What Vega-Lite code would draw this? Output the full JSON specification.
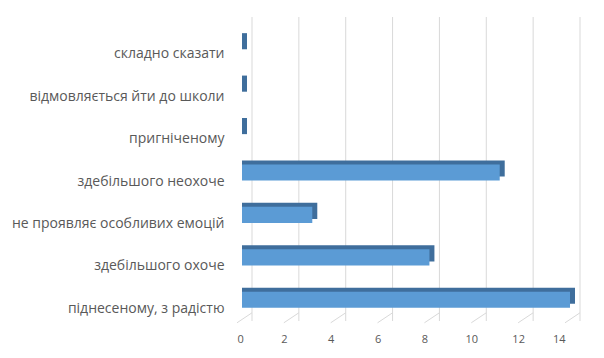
{
  "$schema": "https://vega.github.io/schema/vega-lite/v6.json",
  "autosize": {"type": "none"},
  "width": 328,
  "height": 297,
  "padding": {"left": 242, "top": 24, "right": 34, "bottom": 37},
  "background": "white",
  "config": {
    "view": {"stroke": null},
    "font": "Open Sans",
    "axisX": {"title": null, "domain": false, "ticks": false, "grid": false, "values": [0, 2, 4, 6, 8, 10, 12, 14], "labelPadding": 12, "labelOffset": -5, "labelFontSize": 11, "labelColor": "#595959"},
    "axisY": {"title": null, "domain": false, "ticks": false, "labelPadding": 18, "labelOffset": 9, "labelFontSize": 14, "labelColor": "#595959", "labelLimit": 300}
  },
  "datasets": {
    "bars": [
      {"category": "складно сказати", "value": 0},
      {"category": "відмовляється йти до школи", "value": 0},
      {"category": "пригніченому", "value": 0},
      {"category": "здебільшого неохоче", "value": 11},
      {"category": "не проявляє особливих емоцій", "value": 3},
      {"category": "здебільшого охоче", "value": 8},
      {"category": "піднесеному, з радістю", "value": 14}
    ],
    "grid": [{"t": 0}, {"t": 2}, {"t": 4}, {"t": 6}, {"t": 8}, {"t": 10}, {"t": 12}, {"t": 14}]
  },
  "layer": [
    {
      "data": {"name": "grid"},
      "mark": {"type": "rule", "color": "#d9d9d9", "strokeWidth": 1, "xOffset": 10, "yOffset": -7, "y2Offset": -11},
      "encoding": {
        "x": {"field": "t", "type": "quantitative", "scale": {"domain": [0, 14]}, "title": null}
      }
    },
    {
      "data": {"name": "bars"},
      "mark": {"type": "bar", "color": "#3F6E9C", "xOffset": 5, "x2Offset": 0, "yOffset": -4, "y2Offset": -4},
      "encoding": {
        "y": {"field": "category", "type": "nominal", "sort": null, "scale": {"domain": ["складно сказати", "відмовляється йти до школи", "пригніченому", "здебільшого неохоче", "не проявляє особливих емоцій", "здебільшого охоче", "піднесеному, з радістю"], "paddingInner": 0.62, "paddingOuter": 0.31}, "title": null},
        "x": {"field": "value", "type": "quantitative", "scale": {"domain": [0, 14]}, "title": null},
        "x2": {"datum": 0}
      }
    },
    {
      "data": {"name": "bars"},
      "mark": {"type": "bar", "color": "#5B9BD5"},
      "encoding": {
        "y": {"field": "category", "type": "nominal", "sort": null, "title": null},
        "x": {"field": "value", "type": "quantitative", "title": null}
      }
    },
    {
      "data": {"name": "grid"},
      "mark": {"type": "rule", "color": "#d9d9d9", "strokeWidth": 1, "xOffset": 10, "x2Offset": -5, "yOffset": 13, "y2Offset": 23},
      "encoding": {
        "x": {"field": "t", "type": "quantitative", "title": null},
        "x2": {"field": "t"},
        "y": {"datum": "піднесеному, з радістю", "type": "nominal", "title": null},
        "y2": {"datum": "піднесеному, з радістю"}
      }
    }
  ]
}
